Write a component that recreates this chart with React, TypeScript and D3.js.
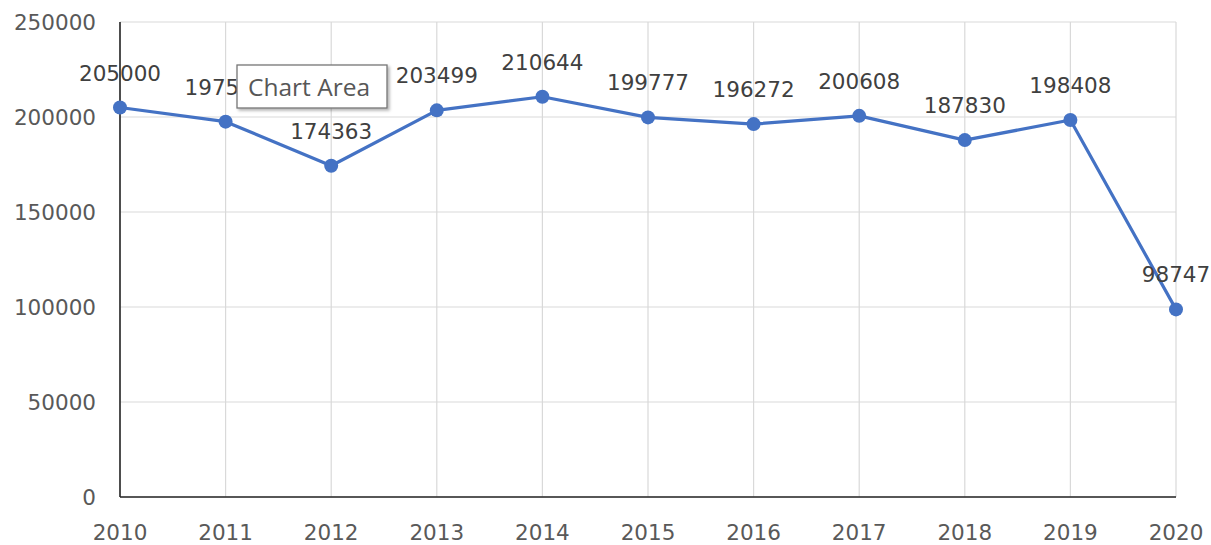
import * as React from 'react';
import { scaleLinear, scalePoint, line as d3line } from 'd3';

const years = ['2010', '2011', '2012', '2013', '2014', '2015', '2016', '2017', '2018', '2019', '2020'];
const values = [205000, 197540, 174363, 203499, 210644, 199777, 196272, 200608, 187830, 198408, 98747];
const yTicks = [0, 50000, 100000, 150000, 200000, 250000];
const tooltipText = 'Chart Area';

const W = 1211;
const H = 545;
const FONT = '"DejaVu Sans", sans-serif';

export default function App() {
  const left = 120, right = 1176, top = 22, bottom = 497;

  const x = scalePoint<string>().domain(years).range([left, right]);
  const y = scaleLinear().domain([0, 250000]).range([bottom, top]);

  const pts = years.map((yr, i) => ({ yr, v: values[i] }));
  const path = d3line<{ yr: string; v: number }>()
    .x(d => x(d.yr) ?? 0)
    .y(d => y(d.v))(pts) ?? '';

  return (
    <svg width={W} height={H} style={{ position: 'absolute', left: 0, top: 0, background: '#fff' }}
      fontFamily={FONT}>
      <defs>
        <filter id="shadow" x="-10%" y="-10%" width="130%" height="140%">
          <feDropShadow dx="2" dy="2" stdDeviation="1.5" floodColor="#000" floodOpacity="0.3" />
        </filter>
      </defs>
      {/* horizontal gridlines */}
      {yTicks.map(t => (
        <line key={'h' + t} x1={left} x2={right} y1={y(t)} y2={y(t)} stroke="#d9d9d9" strokeWidth={1.2} />
      ))}
      {/* vertical gridlines */}
      {years.map(yr => (
        <line key={'v' + yr} x1={x(yr)} x2={x(yr)} y1={top} y2={bottom} stroke="#d9d9d9" strokeWidth={1.2} />
      ))}
      {/* axes */}
      <line x1={left} x2={left} y1={top} y2={bottom} stroke="#262626" strokeWidth={1.6} />
      <line x1={left} x2={right} y1={bottom} y2={bottom} stroke="#262626" strokeWidth={1.6} />

      {/* y tick labels */}
      {yTicks.map(t => (
        <text key={'yl' + t} x={96} y={y(t) + 8} textAnchor="end" fontSize={21.5} fill="#595959">{t}</text>
      ))}
      {/* x tick labels */}
      {years.map(yr => (
        <text key={'xl' + yr} x={x(yr)} y={540} textAnchor="middle" fontSize={21.5} fill="#595959">{yr}</text>
      ))}

      <path d={path} fill="none" stroke="#4472c4" strokeWidth={3.2} strokeLinejoin="round" />
      {pts.map(p => (
        <circle key={'c' + p.yr} cx={x(p.yr)} cy={y(p.v)} r={7} fill="#4472c4" />
      ))}
      {pts.map(p => (
        <text key={'dl' + p.yr} x={x(p.yr)} y={y(p.v) - 27} textAnchor="middle" fontSize={21.5} fill="#404040">{p.v}</text>
      ))}

      {/* hover tooltip over the chart */}
      <g>
        <rect x={237} y={65} width={150} height={43} fill="#fff" stroke="#767676" strokeWidth={1.3} filter="url(#shadow)" />
        <text x={248} y={96} fontFamily='"Open Sans", sans-serif' fontSize={24.5} fill="#575757">{tooltipText}</text>
      </g>
    </svg>
  );
}
